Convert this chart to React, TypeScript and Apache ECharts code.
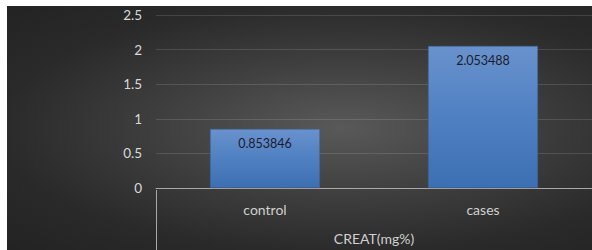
import React, { useEffect, useRef } from "react";
import * as echarts from "echarts";

const categories = ["control", "cases"];
const values = [0.853846, 2.053488];
const axisTitle = "CREAT(mg%)";
const yMin = 0;
const yMax = 2.5;
const yStep = 0.5;

export default function App() {
  const ref = useRef<HTMLDivElement>(null);
  useEffect(() => {
    if (!ref.current) return;
    const chart = echarts.init(ref.current, undefined, { renderer: "svg" });
    const font = "Lato, 'Open Sans', sans-serif";
    chart.setOption({
      animation: false,
      backgroundColor: "transparent",
      grid: { left: 149, right: -2, top: 9, bottom: 60, containLabel: false },
      xAxis: {
        type: "category",
        data: categories,
        name: axisTitle,
        nameLocation: "middle",
        nameGap: 43,
        nameTextStyle: { color: "#d0d0d0", fontSize: 14, fontFamily: font },
        axisLine: { show: true, lineStyle: { color: "#a8a8a8", width: 1 } },
        axisTick: { show: false },
        axisLabel: { color: "#d0d0d0", fontSize: 14, fontFamily: font, margin: 14 },
        splitLine: { show: false },
      },
      yAxis: {
        type: "value",
        min: yMin,
        max: yMax,
        interval: yStep,
        axisLine: { show: false },
        axisTick: { show: false },
        axisLabel: { color: "#d9d9d9", fontSize: 13.5, fontFamily: font, margin: 14 },
        splitLine: { lineStyle: { color: "rgba(255,255,255,0.13)", width: 1 } },
      },
      graphic: [
        {
          type: "line",
          shape: { x1: 149.5, y1: 184, x2: 149.5, y2: 244 },
          style: { stroke: "#a8a8a8", lineWidth: 1 },
          z: 10,
        },
      ],
      series: [
        {
          type: "bar",
          data: values,
          barWidth: 110,
          itemStyle: {
            color: new echarts.graphic.LinearGradient(0, 0, 0, 1, [
              { offset: 0, color: "#6992cd" },
              { offset: 0.5, color: "#4f80c2" },
              { offset: 1, color: "#3c6fb3" },
            ]),
            borderColor: "#3f5f90",
            borderWidth: 0.6,
          },
          label: {
            show: true,
            position: "insideTop",
            distance: 8,
            color: "#1c1c2c",
            fontSize: 12.5,
            fontFamily: font,
            formatter: (p: any) => String(p.value),
          },
        },
      ],
    });
    return () => chart.dispose();
  }, []);
  return (
    <div
      style={{
        position: "absolute",
        left: 7,
        top: 6,
        width: 585,
        height: 244,
        background:
          "radial-gradient(ellipse at 57% 50%, #595959 0%, #3e3e3e 40%, #2a2a2a 72%, #232323 100%)",
      }}
    >
      <div ref={ref} style={{ width: 585, height: 244 }} />
    </div>
  );
}
